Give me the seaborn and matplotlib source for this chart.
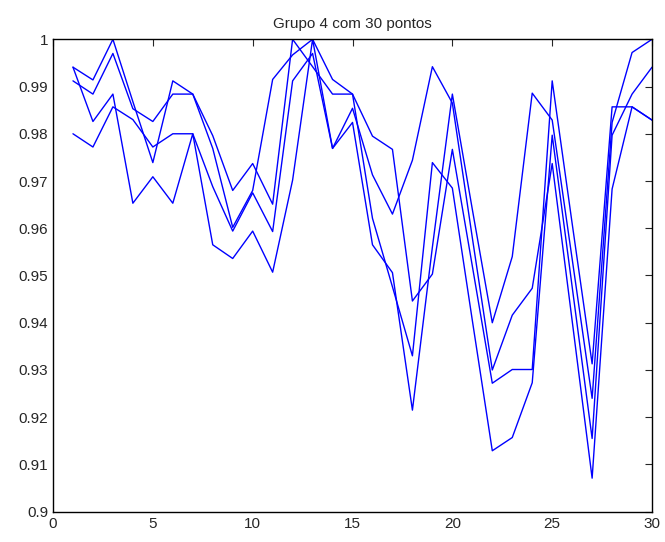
import numpy as np
import pandas as pd
import matplotlib
matplotlib.use('Agg')
import matplotlib.pyplot as plt
import seaborn as sns

# pontos 1..30, quatro series
pontos = list(range(1, 31))
serie_a = [0.9941, 0.9914, 1.0000, 0.9868, 0.9739, 0.9912, 0.9884, 0.9796, 0.9680, 0.9737,
           0.9651, 1.0000, 0.9942, 0.9884, 0.9884, 0.9795, 0.9767, 0.9446, 0.9503, 0.9767,
           0.9520, 0.9272, 0.9301, 0.9301, 0.9912, 0.9610, 0.9313, 0.9857, 0.9857, 0.9829]
serie_b = [0.9941, 0.9826, 0.9884, 0.9653, 0.9709, 0.9653, 0.9800, 0.9565, 0.9536, 0.9594,
           0.9507, 0.9702, 1.0000, 0.9769, 0.9824, 0.9565, 0.9506, 0.9215, 0.9560, 0.9884,
           0.9640, 0.9400, 0.9540, 0.9886, 0.9829, 0.9535, 0.9240, 0.9824, 0.9972, 1.0000]
serie_c = [0.9912, 0.9884, 0.9970, 0.9853, 0.9826, 0.9884, 0.9884, 0.9769, 0.9602, 0.9680,
           0.9915, 0.9967, 1.0000, 0.9915, 0.9884, 0.9621, 0.9476, 0.9330, 0.9739, 0.9685,
           0.9405, 0.9129, 0.9157, 0.9273, 0.9797, 0.9476, 0.9155, 0.9797, 0.9884, 0.9941]
serie_d = [0.9800, 0.9772, 0.9857, 0.9830, 0.9772, 0.9800, 0.9800, 0.9688, 0.9594, 0.9675,
           0.9593, 0.9912, 0.9970, 0.9769, 0.9854, 0.9713, 0.9630, 0.9744, 0.9942, 0.9865,
           0.9580, 0.9300, 0.9416, 0.9473, 0.9737, 0.9404, 0.9071, 0.9683, 0.9857, 0.9829]
nomes = ['a', 'b', 'c', 'd']
titulo = 'Grupo 4 com 30 pontos'

df = pd.DataFrame({
    'x': pontos * 4,
    'y': serie_a + serie_b + serie_c + serie_d,
    'serie': [n for n in nomes for _ in pontos],
})

sns.set_style('white')
plt.rcParams['font.family'] = ['Liberation Sans', 'DejaVu Sans']

fig = plt.figure(figsize=(6.65, 5.42), dpi=100)
ax = fig.add_axes([0.0797, 0.0559, 0.9008, 0.8716])
sns.lineplot(data=df, x='x', y='y', hue='serie', palette=['#0000ff'] * 4,
             estimator=None, legend=False, linewidth=1.0, ax=ax)

ax.set_xlim(0, 30)
ax.set_ylim(0.9, 1.0)
ax.set_xticks(range(0, 31, 5))
yt = np.round(np.arange(0.9, 1.0001, 0.01), 2)
ax.set_yticks(yt)
ax.set_yticklabels([f'{v:g}' for v in yt])
ax.set_xlabel('')
ax.set_ylabel('')
ax.set_title(titulo, fontsize=11, pad=8)
ax.tick_params(direction='in', top=True, right=True, labelsize=11, length=5, width=0.8)
for s in ax.spines.values():
    s.set_visible(True)
    s.set_color('black')
    s.set_linewidth(1.0)

fig.savefig('out.png', dpi=100, facecolor='white')
